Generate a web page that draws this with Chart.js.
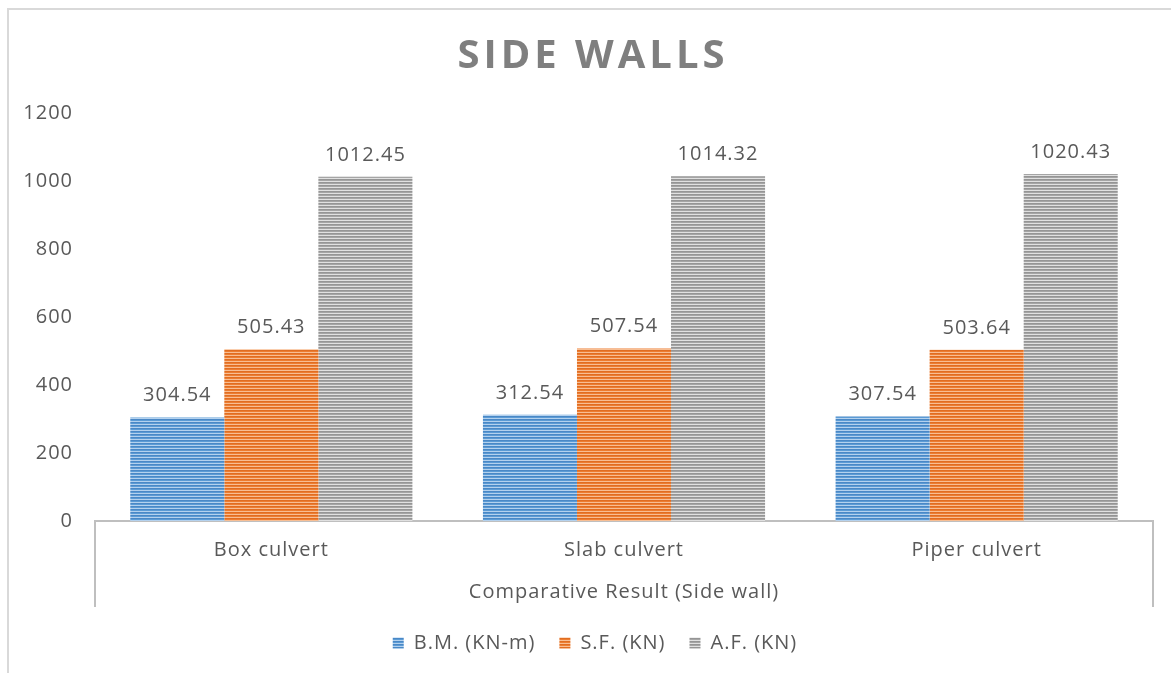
<!DOCTYPE html>
<html>
<head>
<meta charset="utf-8">
<script src="https://cdn.jsdelivr.net/npm/chart.js@4/dist/chart.umd.min.js"></script>
<style>
  html, body { margin: 0; padding: 0; background: #fff; }
  #wrap { width: 1171px; height: 673px; position: relative; }
</style>
</head>
<body>
<div id="wrap"><canvas id="chart" width="1171" height="673"></canvas></div>
<script>
const categories = ["Box culvert", "Slab culvert", "Piper culvert"];
const seriesNames = ["B.M. (KN-m)", "S.F. (KN)", "A.F. (KN)"];
const bmValues = [304.54, 312.54, 307.54];
const sfValues = [505.43, 507.54, 503.64];
const afValues = [1012.45, 1014.32, 1020.43];
const yTicks = [0, 200, 400, 600, 800, 1000, 1200];

const chartTitle = "SIDE WALLS";
const axisTitle = "Comparative Result (Side wall)";
const textColor = "#595959";
const lineColor = "#bfbfbf";

// horizontal striped fill like the Excel pattern
function stripes(base, light, dark) {
  const c = document.createElement("canvas");
  c.width = 8;
  c.height = 3;
  const g = c.getContext("2d");
  g.fillStyle = base;
  g.fillRect(0, 0, 8, 1);
  g.fillStyle = light;
  g.fillRect(0, 1, 8, 1);
  g.fillStyle = dark;
  g.fillRect(0, 2, 8, 1);
  return g.createPattern(c, "repeat");
}

const fills = [
  stripes("#5b9bd5", "#b3d1ee", "#4a88c6"),
  stripes("#ed7d31", "#f8be93", "#e06d22"),
  stripes("#a5a5a5", "#e0e0e0", "#959595"),
];

const frame = {
  id: "frame",
  beforeDraw(chart) {
    const ctx = chart.ctx;
    ctx.save();
    ctx.strokeStyle = "#d9d9d9";
    ctx.lineWidth = 2;
    ctx.beginPath();
    ctx.moveTo(8, 673);
    ctx.lineTo(8, 9);
    ctx.lineTo(1171, 9);
    ctx.stroke();
    ctx.restore();
    ctx.letterSpacing = "1px";
  },
  afterDraw(chart) {
    const ctx = chart.ctx;
    const a = chart.chartArea;
    ctx.save();
    // side lines of the category box
    ctx.strokeStyle = lineColor;
    ctx.lineWidth = 2;
    ctx.beginPath();
    ctx.moveTo(a.left, a.bottom);
    ctx.lineTo(a.left, 607);
    ctx.moveTo(a.right, a.bottom);
    ctx.lineTo(a.right, 607);
    ctx.stroke();
    // title
    ctx.letterSpacing = "4px";
    ctx.font = "bold 40px 'Open Sans'";
    ctx.fillStyle = "#7f7f7f";
    ctx.textAlign = "center";
    ctx.textBaseline = "middle";
    ctx.fillText(chartTitle, 593, 57);
    ctx.restore();
  },
};

const valueLabels = {
  id: "valueLabels",
  afterDatasetsDraw(chart) {
    const ctx = chart.ctx;
    ctx.save();
    ctx.letterSpacing = "1px";
    ctx.font = "20px 'Open Sans'";
    ctx.fillStyle = textColor;
    ctx.textAlign = "center";
    ctx.textBaseline = "alphabetic";
    chart.data.datasets.forEach((ds, i) => {
      chart.getDatasetMeta(i).data.forEach((bar, j) => {
        ctx.fillText(ds.data[j].toFixed(2), bar.x, bar.y - 16);
      });
    });
    ctx.restore();
  },
};

new Chart(document.getElementById("chart"), {
  type: "bar",
  data: {
    labels: categories,
    datasets: [bmValues, sfValues, afValues].map((d, i) => ({
      label: seriesNames[i],
      data: d,
      backgroundColor: fills[i],
      borderWidth: 0,
      categoryPercentage: 0.8,
      barPercentage: 1.0,
    })),
  },
  options: {
    responsive: false,
    animation: false,
    layout: { padding: { top: 113, left: 8, right: 18, bottom: 10 } },
    plugins: {
      title: { display: false },
      tooltip: { enabled: false },
      legend: {
        position: "bottom",
        labels: {
          boxWidth: 11,
          boxHeight: 11,
          padding: 24,
          color: textColor,
          font: { family: "'Open Sans'", size: 20 },
        },
      },
    },
    scales: {
      x: {
        grid: { display: false, drawTicks: false },
        border: { display: true, color: lineColor, width: 2 },
        ticks: {
          padding: 17,
          color: textColor,
          font: { family: "'Open Sans'", size: 20 },
        },
        title: {
          display: true,
          text: axisTitle,
          color: textColor,
          padding: { top: 0, bottom: 5 },
          font: { family: "'Open Sans'", size: 20 },
        },
        afterFit(s) {
          s.height = 88;
        },
      },
      y: {
        min: 0,
        max: 1200,
        grid: { display: false, drawTicks: false },
        border: { display: false },
        afterBuildTicks(s) {
          s.ticks = yTicks.map((v) => ({ value: v }));
        },
        ticks: {
          padding: 22,
          color: textColor,
          font: { family: "'Open Sans'", size: 20 },
          callback: (v) => String(v),
        },
        afterFit(s) {
          s.width = 87;
        },
      },
    },
  },
  plugins: [frame, valueLabels],
});
</script>
</body>
</html>
